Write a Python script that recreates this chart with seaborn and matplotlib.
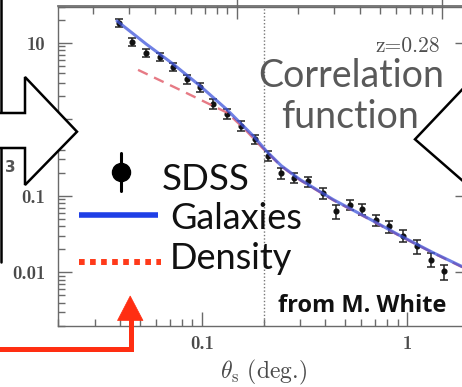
import numpy as np
import pandas as pd
import matplotlib
matplotlib.use("Agg")
import matplotlib.pyplot as plt
from matplotlib.lines import Line2D
from matplotlib.patches import Polygon
from matplotlib.ticker import FixedLocator, FixedFormatter, LogLocator, NullFormatter
import seaborn as sns

# ---- data -----------------------------------------------------------------
# SDSS angular correlation function w(theta)
theta_sdss = [0.0395, 0.0458, 0.0535, 0.0623, 0.0724, 0.0843, 0.0981, 0.114,
              0.133, 0.155, 0.181, 0.210, 0.242, 0.282, 0.329, 0.389, 0.452,
              0.525, 0.607, 0.708, 0.822, 0.962, 1.12, 1.31, 1.52]
w_sdss = [18.4, 10.4, 7.47, 6.62, 4.83, 3.37, 2.64, 1.60, 1.18, 0.822, 0.551,
          0.333, 0.196, 0.173, 0.155, 0.108, 0.0624, 0.0762, 0.0670, 0.0485,
          0.0397, 0.0300, 0.0217, 0.0146, 0.0102]
w_err = [2.0, 1.2, 0.9, 0.8, 0.6, 0.45, 0.35, 0.22, 0.17, 0.12, 0.08, 0.05,
         0.032, 0.026, 0.023, 0.017, 0.013, 0.012, 0.011, 0.008, 0.007,
         0.0055, 0.0043, 0.003, 0.0022]

# model curves
theta_gal = [0.0386, 0.0535, 0.0724, 0.0981, 0.133, 0.180, 0.208, 0.244,
             0.302, 0.438, 0.640, 0.927, 1.34, 1.86]
w_gal = [19.4, 9.70, 5.31, 2.74, 1.33, 0.590, 0.376, 0.247, 0.162, 0.0887,
         0.0516, 0.0300, 0.0180, 0.0118]

theta_den = [0.0489, 0.0783, 0.133, 0.163, 0.197, 0.244, 0.302, 0.438,
             0.640, 0.927, 1.34, 1.86]
w_den = [4.44, 2.43, 1.22, 0.73, 0.424, 0.243, 0.159, 0.087, 0.0508,
         0.0295, 0.0178, 0.0116]

x_ticks = [0.1, 1]
x_tick_labels = ["0.1", "1"]
y_ticks = [0.01, 0.1, 1, 10]
y_tick_labels = ["0.01", "0.1", "1", "10"]
top_ticks = [1, 10]
theta_split = 0.2
deg_to_top = 6.77

# ---- style ------------------------------------------------------------------
sns.set_theme(style="ticks")
plt.rcParams["mathtext.fontset"] = "cm"
plt.rcParams["axes.formatter.use_mathtext"] = True
plt.rcParams["font.family"] = ["DejaVu Sans"]

W, H = 462, 387


def fx(px):
    return px / W


def fy(py):
    return 1 - py / H


fig = plt.figure(figsize=(W / 100, H / 100), dpi=100)
fig.patch.set_facecolor("white")
ax = fig.add_axes([fx(58.4), fy(325.5), (468.7 - 58.4) / W, (325.5 - 6.5) / H])
ax.set_facecolor("white")
ax.set_xscale("log")
ax.set_yscale("log")

sdss = pd.DataFrame({"theta": theta_sdss, "w": w_sdss, "err": w_err})
gal = pd.DataFrame({"theta": theta_gal, "w": w_gal})
den = pd.DataFrame({"theta": theta_den, "w": w_den})

ax.errorbar(sdss["theta"], sdss["w"], yerr=sdss["err"], fmt="o", ms=3.4,
            color="#111111", ecolor="#222222", elinewidth=1.1, capsize=2.6,
            capthick=1.1, zorder=3)
sns.lineplot(data=den, x="theta", y="w", ax=ax, color="#e46c78", lw=1.7,
             linestyle=(0, (4.5, 3)), alpha=0.9, zorder=4)
sns.lineplot(data=gal, x="theta", y="w", ax=ax, color="#3f55dc", lw=2.2,
             alpha=0.75, zorder=5)
ax.axvline(theta_split, color="#777777", lw=1.0, ls=(0, (1, 1.5)), zorder=2)

ax.set_xlim(0.02, 2)
ax.set_ylim(0.002, 30)

ax.xaxis.set_major_locator(FixedLocator(x_ticks))
ax.xaxis.set_major_formatter(FixedFormatter(x_tick_labels))
ax.yaxis.set_major_locator(FixedLocator(y_ticks))
ax.yaxis.set_major_formatter(FixedFormatter(y_tick_labels))
for axis in (ax.xaxis, ax.yaxis):
    axis.set_minor_locator(LogLocator(base=10, subs=np.arange(2, 10), numticks=20))
    axis.set_minor_formatter(NullFormatter())

tick_col = "#6a6a6a"
ax.tick_params(which="both", direction="in", color=tick_col, width=1.0,
               top=False, right=True, labelcolor="#4a4a4a", labelsize=13.5,
               labelfontfamily="cmb10")
ax.tick_params(which="major", length=10)
ax.tick_params(which="minor", length=5)
ax.tick_params(axis="y", pad=9.5)
ax.tick_params(axis="x", pad=6.5)
for sp in ax.spines.values():
    sp.set_color(tick_col)
    sp.set_linewidth(1.0)

ax.set_xlabel(r"$\theta_{\rm s}$ (deg.)", fontsize=17, color="#4a4a4a",
              family="cmr10", labelpad=4)
ax.set_ylabel("")

# comoving-separation axis along the top (labels sit above the frame)
top = ax.secondary_xaxis("top", functions=(lambda t: t * deg_to_top,
                                           lambda r: r / deg_to_top))
top.xaxis.set_major_locator(FixedLocator(top_ticks))
top.xaxis.set_major_formatter(NullFormatter())
top.xaxis.set_minor_locator(LogLocator(base=10, subs=np.arange(2, 10), numticks=20))
top.xaxis.set_minor_formatter(NullFormatter())
top.tick_params(which="major", direction="inout", length=18, width=1.0,
                color=tick_col)
top.tick_params(which="minor", direction="in", length=6, width=1.0,
                color=tick_col)
top.spines["top"].set_color(tick_col)

# redshift tag
fig.text(fx(375), fy(52.5), "z=0.28", family="cmr10", fontsize=15.5,
         color="#4f4f4f", va="baseline", ha="left")

# ---- slide overlays ---------------------------------------------------------
def poly(points, **kw):
    p = Polygon([(fx(x), fy(y)) for x, y in points], closed=True,
                transform=fig.transFigure, **kw)
    fig.add_artist(p)
    return p


def line(xs, ys, **kw):
    ln = Line2D([fx(x) for x in xs], [fy(y) for y in ys],
                transform=fig.transFigure, **kw)
    fig.add_artist(ln)
    return ln


# left box edge and right-pointing block arrow
line([1, 1], [-5, 113], color="black", lw=1.8, zorder=6)
line([1, 1], [148, 262], color="black", lw=1.8, zorder=6)
poly([(-6, 113), (25, 113), (25, 77), (77, 131.7), (25, 185), (25, 148),
      (-6, 148)], facecolor="white", edgecolor="black", lw=1.8,
     joinstyle="miter", zorder=7)
fig.text(fx(5.5), fy(171.5), "3", fontsize=11, color="#555555",
         family="DejaVu Sans", fontweight="bold", va="baseline", zorder=6)

# left-pointing block arrow on the right
poly([(415, 139.3), (480, 70.7), (480, 195.9)], facecolor="white",
     edgecolor="black", lw=1.8, joinstyle="miter", zorder=7)

# red pointer arrow
red = "#ff2e12"
line([-5, 130.5, 130.5], [349, 349, 318], color=red, lw=3.6,
     solid_joinstyle="miter", solid_capstyle="butt", zorder=8)
poly([(117.5, 320.5), (143, 320.5), (130.2, 296)], facecolor=red,
     edgecolor=red, lw=0.5, zorder=8)

# title-like annotation
fig.text(fx(351), fy(87), "Correlation", family="Lato", fontsize=27,
         color="#595959", ha="center", va="baseline", zorder=9)
fig.text(fx(350), fy(128), "function", family="Lato", fontsize=27,
         color="#595959", ha="center", va="baseline", zorder=9)

# hand-made legend
line([120.7, 120.7], [153, 191], color="black", lw=2.2, zorder=9)
line([120.7], [171.7], marker="o", ms=13, color="black", lw=0, zorder=9)
fig.text(fx(162), fy(190), "SDSS", family="Lato", fontsize=26.5,
         color="#111111", va="baseline", zorder=9)
line([79, 158], [215, 215], color="#1f3fe6", lw=4.0, solid_capstyle="butt",
     zorder=9)
fig.text(fx(170), fy(229.3), "Galaxies", family="Lato", fontsize=26,
         color="#111111", va="baseline", zorder=9)
line([79, 161], [261.7, 261.7], color="#ff3a1a", lw=4.3,
     ls=(0, (0.95, 0.9)), dash_capstyle="butt", zorder=9)
fig.text(fx(170), fy(269.3), "Density", family="Lato", fontsize=26,
         color="#111111", va="baseline", zorder=9)

fig.text(fx(278), fy(311.7), "from M. White", family="Open Sans",
         fontweight="bold", fontsize=17, color="#111111", va="baseline",
         zorder=9)

fig.savefig("out.png", dpi=100, facecolor="white")
